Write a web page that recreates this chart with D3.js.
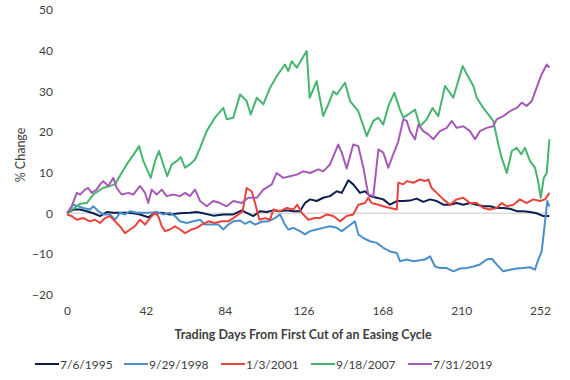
<!DOCTYPE html>
<html>
<head>
<meta charset="utf-8">
<script src="https://cdn.jsdelivr.net/npm/d3@7"></script>
<style>
  body { margin: 0; background: #fff; }
  svg { font-family: Lato, "Open Sans", sans-serif; }
</style>
</head>
<body>
<div id="chart"></div>
<script>
// values: [trading day, % change]
var s1995 = [[0,0],[3.4,0.9],[6.9,0.9],[10.5,0.5],[14,0],[17.6,-0.7],[21.2,0.3],[24.7,0.1],[28.2,0.1],[31.8,0.1],[35.3,0],[38.9,-0.3],[43.3,-1],[46.9,0],[50.5,0.1],[54.9,-0.3],[60.2,0],[65.5,0.1],[69.1,0.3],[72.6,0],[77.9,-0.6],[83.3,-0.3],[88.6,-0.3],[93.1,0.7],[95.7,0.1],[99.3,-0.7],[102.8,0.5],[106.4,0.3],[109.9,0.7],[113.5,0.5],[117.1,0.7],[120.6,0.5],[124.1,0.5],[126.8,2.5],[129.5,3.4],[133,3],[136.5,3.8],[140.1,4.2],[143.7,5.4],[146.4,5],[149.9,8.1],[152.5,7.1],[156.1,5],[158.8,5.4],[161.4,4.2],[165,3.8],[168.5,3.4],[172.1,2.1],[175.7,3],[179.2,3],[182.7,3.1],[186.3,3.6],[189.8,2.8],[193.4,3.4],[197,3],[200.5,2.1],[204,2.1],[207.6,2.5],[211.1,2.1],[214.7,2.5],[218.3,2.1],[221.8,1.7],[225.4,1.7],[228.9,1.3],[232.4,1.3],[236,1.1],[239.6,0.5],[243.1,0.5],[246.7,0.3],[250.2,0],[253.8,-0.7],[257,-0.7]];

var s1998 = [[0,0],[3.4,2.1],[6,1.7],[8.7,1.3],[12.3,0.9],[14,1.7],[16.7,0.5],[19.3,-0.3],[22.9,-0.3],[25.6,-1.6],[28.2,0.1],[30.9,-0.3],[33.6,0.5],[37.1,0.1],[40.7,0.1],[44.2,0.1],[47.8,0.3],[51.3,-0.3],[54.9,0.1],[57.5,-0.7],[60.2,-2],[63.8,-2.4],[67.3,-2],[70.9,-1.6],[73.5,-2.8],[77.1,-2.8],[80.6,-2.8],[83.3,-4],[85.9,-2.8],[88.6,-2],[92.2,-1.8],[94.8,-2.6],[97.5,-2],[100.2,-2.8],[103.7,-2.1],[107.2,-2],[110.8,-1.2],[113.5,-0.3],[116.1,-2.8],[117.9,-4],[120.6,-3.6],[124.1,-4.4],[126.8,-5.2],[129.5,-4.4],[133,-4],[136.5,-3.6],[140.1,-3.2],[143.7,-3.6],[146.4,-4.4],[149.9,-3.2],[153.4,-2],[155.2,-5.2],[157.9,-6.1],[161.4,-6.9],[165,-7.3],[168.5,-8.5],[172.1,-9.4],[175.7,-9.8],[177.4,-11.8],[181,-11.4],[184.5,-11.8],[188.1,-11.6],[190.7,-11.4],[193.4,-10.6],[196.1,-13.1],[198.7,-13.5],[202.3,-13.5],[205.8,-14.3],[209.4,-13.6],[213,-13.5],[216.5,-13.1],[220,-12.6],[223.6,-11.4],[226.3,-11.2],[228.9,-12.6],[232.4,-14.3],[236,-13.9],[239.6,-13.6],[243.1,-13.5],[246.7,-13.3],[249.3,-13.9],[251.1,-11.4],[252.9,-9.4],[254.7,-2],[255.9,3],[257,1.7]];

var s2001 = [[0,-0.3],[2.5,-0.7],[5.2,-1.6],[8.7,-1.2],[12.3,-2],[14.9,-1.6],[17.6,-2.4],[20.2,-1.2],[22.9,-0.7],[25.6,-2],[28.2,-3.2],[30.9,-4.9],[33.6,-4],[36.2,-3.2],[38.9,-1.6],[41.6,-2.8],[44.2,-1.2],[46.9,0.1],[48.6,-0.7],[50.5,-3.2],[52.2,-4.4],[54.9,-4],[57.5,-3.2],[60.2,-4],[62.9,-4.9],[66.4,-4],[69.1,-3.6],[71.8,-2.8],[75.3,-2],[78.8,-2.4],[82.4,-2],[85.9,-2],[88.6,-1.2],[91.3,-0.3],[93.6,0.5],[95.7,6.2],[98.4,5.4],[100.2,2.5],[102.5,-1.6],[105.5,-1.2],[108.2,-1.6],[109.9,0.9],[113.5,0.5],[117.1,1.3],[120.6,0.9],[122.7,2.1],[125,0.1],[128.6,-1.6],[132.1,-1.2],[134.8,-1.2],[138.4,-0.3],[141.9,-0.7],[145.4,-2],[149,-0.7],[152.5,-0.3],[155.2,2.1],[158.8,2.5],[160.5,3.8],[162.3,2.5],[165.9,2.1],[168.5,1.7],[172.1,1.3],[175.7,0.9],[176.5,7.5],[179.2,7.1],[181,7.9],[184.5,7.5],[188.1,8.3],[190.7,7.9],[192.5,8.3],[194.3,6.2],[197,5],[200.5,3.4],[204,2.1],[207.6,3.4],[211.1,3.8],[214.7,2.5],[218.3,2.5],[221.8,1.3],[225.4,0.9],[228.9,1.3],[231.6,2.5],[234.3,1.7],[237.8,2.1],[241.3,3.4],[244.9,2.5],[248.4,3.4],[252,3],[254.7,3.4],[257,5]];

var s2007 = [[0,0],[7,2.3],[10.5,2.5],[14,4.6],[19.2,6.2],[25.6,7.1],[29.1,9.9],[31.8,12],[36.2,14.9],[38.4,16.5],[40.7,12.8],[44.6,8.7],[46.9,12.8],[49,15.3],[51.3,12],[53.4,9.1],[55.8,12],[58.4,12.8],[60.6,13.8],[62.9,11.2],[65.5,12],[68.2,13.2],[70.9,16.1],[74.4,20.2],[78.8,23.5],[83.3,25.9],[85.1,23.1],[88.6,23.5],[92.2,29.2],[95.7,27.6],[97.9,24.3],[101.1,28.4],[104.6,26.8],[108.2,30.9],[111.7,33.7],[116.1,36.6],[117.9,35],[119.7,37.4],[122.4,35.8],[127.7,39.9],[129.3,28.4],[133,32.5],[136.5,23.9],[139.2,26.8],[141.9,30],[143.7,29.2],[148.1,32.1],[150.8,27.6],[155.2,25.1],[159.7,19],[163.2,22.7],[165.9,23.5],[168.5,21.8],[171.2,26.4],[174.4,29.6],[177.4,25.5],[179.2,23.5],[181.8,24.3],[185.4,25.5],[188.1,21.4],[191.6,23.1],[194.8,25.9],[197.8,23.9],[201.4,31.3],[204,29.6],[205.8,28.4],[210.8,36.2],[213,34.2],[216.5,31.3],[218.3,28.4],[221.8,25.9],[227.1,22.7],[229.8,16.9],[231.6,13.6],[234.3,9.9],[237,15.3],[239.6,16.1],[242,14.5],[244,16.1],[246.7,12.8],[249.3,11.2],[251,7.9],[252.4,3.8],[254,8.7],[255.6,9.9],[257,18.2]];

var s2019 = [[0,0],[2.5,1.7],[5.2,5],[7,4.6],[9.6,5.8],[11.3,6.2],[13.2,5],[15.8,5.8],[17.6,7.1],[19.3,7.9],[22,6.7],[24.7,8.7],[26.5,6.2],[29.1,4.6],[32.7,5],[35.3,4.6],[38.9,6.7],[41.6,5],[43.3,2.5],[45.1,5.8],[47.8,4.6],[50.5,5.8],[53.1,4.2],[56.6,4.6],[60.2,4.2],[62.9,5],[65.5,4.2],[68.2,5.8],[70.9,3],[74.4,1.7],[77.9,3],[81.5,2.5],[85.1,1.7],[88.6,3],[93.1,2.5],[96.6,3.8],[101.1,3.8],[104.6,5.8],[109.1,7.1],[111.7,9.9],[115.2,8.7],[118.8,9.1],[122.4,9.5],[125.9,10.3],[129.5,9.9],[133.9,10.8],[136.5,10.3],[140.1,12],[144.5,16.9],[146.4,14.9],[149,11],[152.5,16.9],[155.2,16.5],[157.9,11.2],[160.5,4.6],[163.2,4.2],[165.9,15.7],[168.5,14.9],[171.2,11.2],[173.8,14.5],[176.5,17.7],[179.2,23.1],[181,22.7],[182.7,20.2],[185.4,18.2],[187.2,21.8],[189.8,20.2],[192.5,19.4],[195.2,18.2],[198.7,20.2],[202.3,21],[205,22.7],[207.6,21],[211.1,21.4],[214.7,20.2],[217.4,18.2],[220,20.2],[223.6,21],[227.1,21.4],[228.9,23.1],[232.4,23.9],[236,25.1],[239.6,25.9],[242.3,27.2],[244.9,26.4],[247.6,27.6],[250.2,30.9],[252.9,34.2],[255.6,36.6],[257,35.8]];

var seriesNames = ["7/6/1995", "9/29/1998", "1/3/2001", "9/18/2007", "7/31/2019"];
var seriesData = [s1995, s1998, s2001, s2007, s2019];
var colors = ["#0b1f4d", "#4a8fcb", "#e8433c", "#45b56f", "#a55bb5"];

var xTicks = [0, 42, 84, 126, 168, 210, 252];
var yTicks = [-20, -10, 0, 10, 20, 30, 40, 50];

var width = 570, height = 380;

var svg = d3.select("#chart").append("svg")
  .attr("width", width)
  .attr("height", height);

var x = d3.scaleLinear().domain([0, 252]).range([67, 540]);
var y = d3.scaleLinear().domain([-20, 50]).range([294.5, 10]);

// zero line
svg.append("line")
  .attr("x1", x(0)).attr("x2", x(257))
  .attr("y1", y(0)).attr("y2", y(0))
  .attr("stroke", "#d9d9d9")
  .attr("stroke-width", 1.5);

// y tick labels
var yAxis = d3.axisLeft(y).tickValues(yTicks).tickSize(0).tickPadding(0);
var gy = svg.append("g").attr("transform", "translate(53,0)").call(yAxis);
gy.select(".domain").remove();
gy.selectAll("text").attr("font-size", 12).attr("fill", "#404040").attr("font-family", "Lato");

// x tick labels
var xAxis = d3.axisBottom(x).tickValues(xTicks).tickSize(0).tickPadding(0);
var gx = svg.append("g").attr("transform", "translate(0,306)").call(xAxis);
gx.select(".domain").remove();
gx.selectAll("text").attr("font-size", 12).attr("fill", "#404040").attr("font-family", "Lato");

// lines
var line = d3.line()
  .x(d => x(d[0]))
  .y(d => y(d[1]));

svg.selectAll(".series")
  .data(seriesData)
  .enter()
  .append("path")
  .attr("class", "series")
  .attr("d", line)
  .attr("fill", "none")
  .attr("stroke", (d, i) => colors[i])
  .attr("stroke-width", 2)
  .attr("stroke-linejoin", "round");

// axis titles
svg.append("text")
  .attr("x", 303).attr("y", 339)
  .attr("text-anchor", "middle")
  .attr("font-size", 12.5)
  .attr("font-weight", "bold")
  .attr("fill", "#404040")
  .text("Trading Days From First Cut of an Easing Cycle");

svg.append("text")
  .attr("transform", "translate(25,155) rotate(-90)")
  .attr("text-anchor", "middle")
  .attr("font-size", 12.5)
  .attr("fill", "#404040")
  .text("% Change");

// legend
var legendX = [35, 124, 221, 311, 408];
var legend = svg.selectAll(".legend")
  .data(seriesNames)
  .enter()
  .append("g")
  .attr("class", "legend")
  .attr("transform", (d, i) => "translate(" + legendX[i] + ",364)");

legend.append("line")
  .attr("x1", 0).attr("x2", 24)
  .attr("stroke", (d, i) => colors[i])
  .attr("stroke-width", 2);

legend.append("text")
  .attr("x", 25).attr("y", 4.5)
  .attr("font-size", 12)
  .attr("fill", "#404040")
  .text(d => d);
</script>
</body>
</html>
